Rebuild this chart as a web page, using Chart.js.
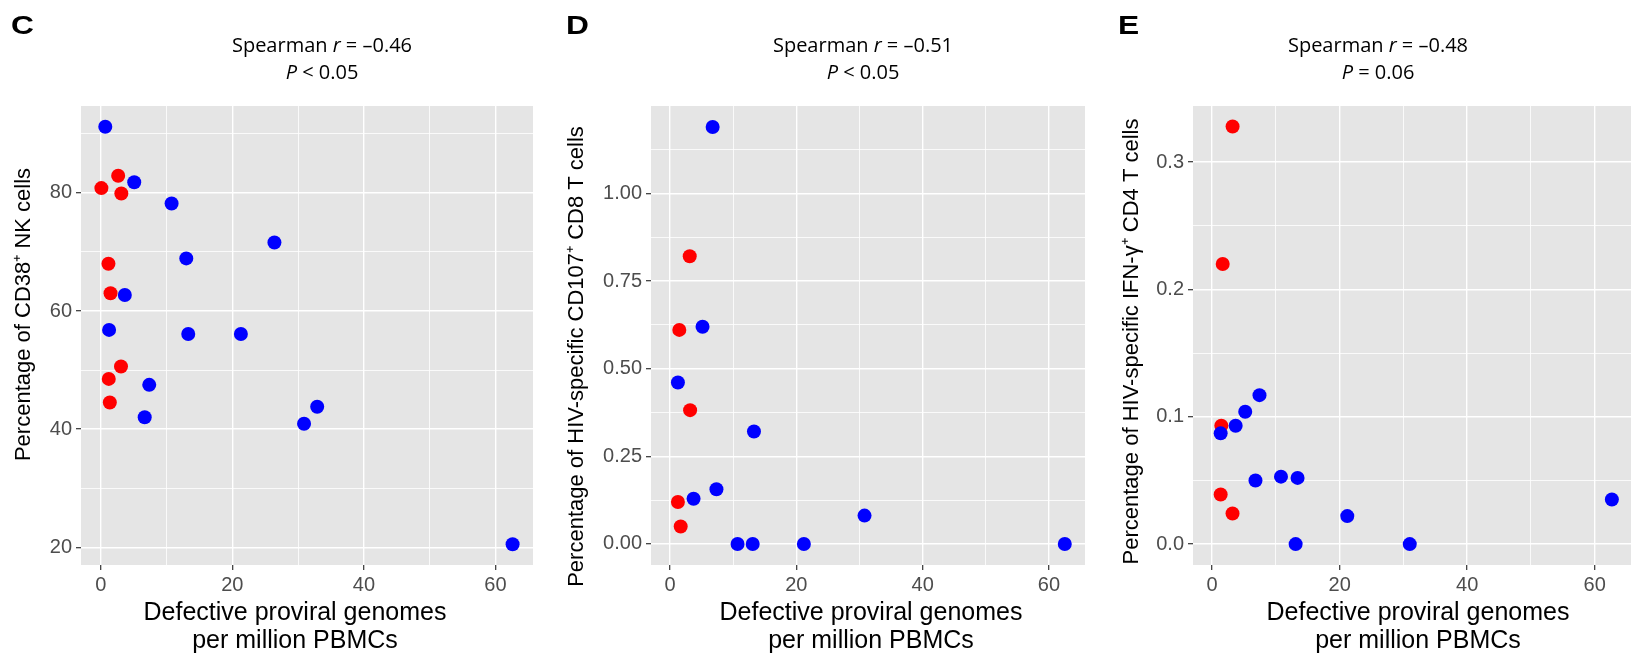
<!DOCTYPE html>
<html>
<head>
<meta charset="utf-8">
<script src="https://cdn.jsdelivr.net/npm/chart.js@4.4.1/dist/chart.umd.min.js"></script>
<style>
  body { margin: 0; background: #fff; }
  #wrap { position: relative; width: 1638px; height: 654px; overflow: hidden; background: #fff; }
  .panel { position: absolute; top: 0; width: 546px; height: 654px; }
  .letter { position: absolute; top: 13px; font: bold 26px "Liberation Sans", Arial, sans-serif; line-height: 24px; color: #000; transform: scaleX(1.22); transform-origin: left top; }
  .stat { position: absolute; top: 31px; width: 300px; text-align: center; font: 20px "Open Sans", sans-serif; line-height: 27px; color: #000; }
</style>
</head>
<body>
<div id="wrap">
  <div class="panel" style="left:0"><canvas id="chartC"></canvas></div>
  <div class="panel" style="left:546px"><canvas id="chartD"></canvas></div>
  <div class="panel" style="left:1092px"><canvas id="chartE"></canvas></div>
</div>
<script>
// shared x axis
const xTicks = [0, 10, 20, 30, 40, 50, 60];
const xLabels = ["0", "", "20", "", "40", "", "60"];
const xTitle = ["Defective proviral genomes", "per million PBMCs"];

// panel C - CD38+ NK cells
const cRedX = [0.1, 2.65, 3.13, 1.17, 1.49, 3.08, 1.22, 1.38];
const cRedY = [80.8, 82.9, 79.9, 68.0, 63.0, 50.6, 48.5, 44.5];
const cBlueX = [0.69, 5.09, 10.77, 13.0, 26.4, 3.66, 1.27, 13.3, 21.3, 7.37, 6.68, 32.9, 30.9, 62.6];
const cBlueY = [91.2, 81.8, 78.2, 68.9, 71.6, 62.7, 56.8, 56.1, 56.1, 47.5, 42.0, 43.8, 40.9, 20.5];
const cYTicks = [20, 30, 40, 50, 60, 70, 80, 90];
const cYLabels = ["20", "", "40", "", "60", "", "80", ""];

// panel D - CD107+ CD8 T cells
const dRedX = [3.13, 1.48, 3.19, 1.26, 1.70];
const dRedY = [0.821, 0.611, 0.382, 0.120, 0.050];
const dBlueX = [6.76, 5.16, 1.26, 13.3, 7.36, 3.74, 10.7, 13.1, 21.2, 30.8, 62.5];
const dBlueY = [1.19, 0.620, 0.461, 0.321, 0.156, 0.129, 0, 0, 0, 0.081, 0];
const dYTicks = [0, 0.125, 0.25, 0.375, 0.5, 0.625, 0.75, 0.875, 1.0, 1.125];
const dYLabels = ["0.00", "", "0.25", "", "0.50", "", "0.75", "", "1.00", ""];

// panel E - IFN-g+ CD4 T cells
const eRedX = [3.21, 1.66, 1.44, 1.34, 3.2];
const eRedY = [0.328, 0.220, 0.093, 0.039, 0.024];
const eBlueX = [7.43, 5.19, 3.69, 1.34, 6.8, 10.8, 13.4, 21.2, 13.1, 31.0, 62.7];
const eBlueY = [0.117, 0.104, 0.093, 0.087, 0.050, 0.053, 0.052, 0.022, 0, 0, 0.035];
const eYTicks = [0, 0.05, 0.1, 0.15, 0.2, 0.25, 0.3];
const eYLabels = ["0.0", "", "0.1", "", "0.2", "", "0.3"];

const panelLetters = ["C", "D", "E"];
const spearmanR = ["\u20130.46", "\u20130.51", "\u20130.48"];
const pValues = ["< 0.05", "< 0.05", "= 0.06"];

const wrap = document.getElementById("wrap");
const letterLeft = [11, 566, 1118];
const statCenter = [322, 863, 1378];
panelLetters.forEach((l, i) => {
  const d = document.createElement("div");
  d.className = "letter";
  d.style.left = letterLeft[i] + "px";
  d.textContent = l;
  wrap.appendChild(d);
  const s = document.createElement("div");
  s.className = "stat";
  s.style.left = (statCenter[i] - 150) + "px";
  s.innerHTML = "Spearman <i>r</i> = " + spearmanR[i] + "<br><i>P</i> " + pValues[i].replace("<", "&lt;");
  wrap.appendChild(s);
});

const zip = (xs, ys) => xs.map((x, i) => ({ x: x, y: ys[i] }));

// grey panel behind the grid
const panelBg = {
  id: "panelBg",
  beforeDraw(chart) {
    const { ctx, chartArea: a } = chart;
    ctx.save();
    ctx.fillStyle = "#E5E5E5";
    ctx.fillRect(a.left, a.top, a.right - a.left, a.bottom - a.top);
    ctx.restore();
  },
};

// nudge the axis title boxes (the original titles are not centred on the panel)
function titleNudge(dx, dy) {
  return {
    id: "titleNudge",
    afterLayout(chart) {
      const sx = chart.scales.x, sy = chart.scales.y;
      sx.left += dx; sx.right += dx;
      sy.top += dy; sy.bottom += dy;
    },
  };
}

const tickFont = { family: "'Liberation Sans', Arial, sans-serif", size: 20 };
const yTitleFont = { family: "'Liberation Sans', Arial, sans-serif", size: 22 };
const xTitleFont = { family: "'Liberation Sans', Arial, sans-serif", size: 25, lineHeight: 28 / 25 };

function gridFor(labels) {
  return {
    color: "#FFFFFF",
    lineWidth: (c) => (labels[c.index] ? 1.4 : 0.8),
    drawTicks: true,
    tickLength: 5,
    tickWidth: 1.2,
    tickColor: (c) => (labels[c.index] ? "#333333" : "rgba(0,0,0,0)"),
  };
}

function makePanel(id, p) {
  new Chart(document.getElementById(id), {
    type: "scatter",
    data: {
      datasets: [
        { data: zip(p.blueX, p.blueY), backgroundColor: "#0000FF", borderWidth: 0, pointRadius: 7, pointHoverRadius: 7, clip: false },
        { data: zip(p.redX, p.redY), backgroundColor: "#FF0000", borderWidth: 0, pointRadius: 7, pointHoverRadius: 7, clip: false },
      ],
    },
    options: {
      responsive: true,
      maintainAspectRatio: false,
      animation: false,
      layout: { padding: { left: p.padLeft, right: p.padRight, top: 106, bottom: 0 } },
      plugins: { legend: { display: false }, tooltip: { enabled: false } },
      scales: {
        x: {
          type: "linear",
          bounds: "data",
          min: -3.0,
          max: 65.7,
          afterBuildTicks: (s) => { s.ticks = xTicks.map((v) => ({ value: v })); },
          afterFit: (s) => { s.height = 89; },
          ticks: { font: tickFont, color: "#4D4D4D", padding: 3, autoSkip: false, maxRotation: 0, callback: (v, i) => xLabels[i] },
          grid: gridFor(xLabels),
          border: { display: false },
          title: { display: true, text: xTitle, font: xTitleFont, color: "#000", padding: { top: 0, bottom: -1 } },
        },
        y: {
          type: "linear",
          bounds: "data",
          min: p.yMin,
          max: p.yMax,
          afterBuildTicks: (s) => { s.ticks = p.yTicks.map((v) => ({ value: v })); },
          afterFit: (s) => { s.width = p.yWidth; },
          ticks: { font: tickFont, color: "#4D4D4D", padding: 4, autoSkip: false, callback: (v, i) => p.yLabels[i] },
          grid: gridFor(p.yLabels),
          border: { display: false },
          title: { display: true, text: p.yTitle, font: yTitleFont, color: "#000", padding: { top: 0, bottom: 0 } },
        },
      },
    },
    plugins: [panelBg, titleNudge(p.xNudge, p.yNudge)],
  });
}

makePanel("chartC", {
  redX: cRedX, redY: cRedY, blueX: cBlueX, blueY: cBlueY,
  yMin: 17.0, yMax: 94.7, yTicks: cYTicks, yLabels: cYLabels,
  yTitle: "Percentage of CD38\u207A NK cells",
  padLeft: 10.8, yWidth: 70.2, padRight: 13, xNudge: -12, yNudge: -21,
});
makePanel("chartD", {
  redX: dRedX, redY: dRedY, blueX: dBlueX, blueY: dBlueY,
  yMin: -0.06, yMax: 1.25, yTicks: dYTicks, yLabels: dYLabels,
  yTitle: "Percentage of HIV-specific CD107\u207A CD8 T cells",
  padLeft: 17.8, yWidth: 87.2, padRight: 6, xNudge: 3, yNudge: 21,
});
makePanel("chartE", {
  redX: eRedX, redY: eRedY, blueX: eBlueX, blueY: eBlueY,
  yMin: -0.0164, yMax: 0.3441, yTicks: eYTicks, yLabels: eYLabels,
  yTitle: "Percentage of HIV-specific IFN-\u03B3\u207A CD4 T cells",
  padLeft: 26.8, yWidth: 74.2, padRight: 5, xNudge: 6, yNudge: 6,
});
</script>
</body>
</html>
